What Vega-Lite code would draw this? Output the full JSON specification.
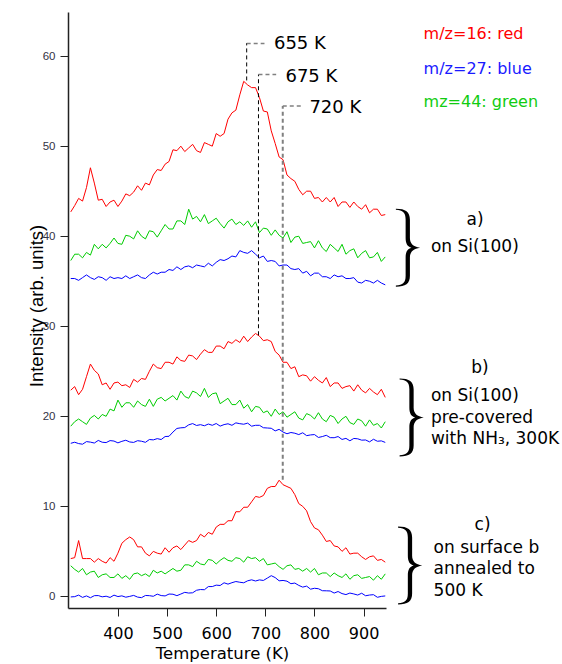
{
"$schema":"https://vega.github.io/schema/vega-lite/v6.json",
"width":318,"height":596,
"autosize":{"type":"none"},
"padding":{"left":68,"top":12,"right":176,"bottom":56},
"background":"white",
"config":{"view":{"stroke":null}},
"datasets":{
"ra":[{"x":304,"y":42.7},{"x":312,"y":43.4},{"x":320,"y":44.2},{"x":328,"y":43.9},{"x":336,"y":45.4},{"x":344,"y":47.6},{"x":352,"y":45.9},{"x":360,"y":44.0},{"x":368,"y":44.1},{"x":376,"y":43.3},{"x":384,"y":43.8},{"x":392,"y":44.0},{"x":400,"y":43.3},{"x":408,"y":43.9},{"x":416,"y":44.7},{"x":424,"y":44.5},{"x":432,"y":44.9},{"x":440,"y":45.6},{"x":448,"y":45.1},{"x":456,"y":45.9},{"x":464,"y":45.7},{"x":472,"y":46.8},{"x":480,"y":47.4},{"x":488,"y":47.3},{"x":496,"y":48.0},{"x":504,"y":48.3},{"x":512,"y":49.6},{"x":520,"y":49.5},{"x":528,"y":50.0},{"x":536,"y":49.4},{"x":544,"y":49.8},{"x":552,"y":50.2},{"x":560,"y":49.5},{"x":568,"y":49.3},{"x":576,"y":50.4},{"x":584,"y":50.2},{"x":592,"y":50.0},{"x":600,"y":51.4},{"x":608,"y":51.1},{"x":616,"y":51.4},{"x":624,"y":53.0},{"x":632,"y":53.7},{"x":640,"y":54.0},{"x":648,"y":55.7},{"x":656,"y":57.2},{"x":664,"y":56.8},{"x":672,"y":56.5},{"x":680,"y":56.5},{"x":688,"y":55.4},{"x":696,"y":53.9},{"x":704,"y":53.8},{"x":712,"y":51.7},{"x":720,"y":50.3},{"x":728,"y":48.8},{"x":736,"y":48.5},{"x":744,"y":46.8},{"x":752,"y":46.4},{"x":760,"y":46.1},{"x":768,"y":45.2},{"x":776,"y":44.6},{"x":784,"y":45.0},{"x":792,"y":45.0},{"x":800,"y":44.2},{"x":808,"y":44.3},{"x":816,"y":43.8},{"x":824,"y":44.3},{"x":832,"y":43.8},{"x":840,"y":44.3},{"x":848,"y":43.3},{"x":856,"y":43.8},{"x":864,"y":43.8},{"x":872,"y":43.2},{"x":880,"y":43.8},{"x":888,"y":43.3},{"x":896,"y":43.0},{"x":904,"y":43.5},{"x":912,"y":42.6},{"x":920,"y":43.0},{"x":928,"y":43.0},{"x":936,"y":42.3},{"x":944,"y":42.4}],
"ga":[{"x":304,"y":37.3},{"x":312,"y":38.0},{"x":320,"y":38.0},{"x":328,"y":37.6},{"x":336,"y":38.2},{"x":344,"y":37.9},{"x":352,"y":39.1},{"x":360,"y":38.6},{"x":368,"y":39.1},{"x":376,"y":38.7},{"x":384,"y":39.2},{"x":392,"y":39.8},{"x":400,"y":39.2},{"x":408,"y":39.1},{"x":416,"y":40.1},{"x":424,"y":40.0},{"x":432,"y":39.7},{"x":440,"y":40.6},{"x":448,"y":40.0},{"x":456,"y":39.7},{"x":464,"y":40.6},{"x":472,"y":40.5},{"x":480,"y":39.9},{"x":488,"y":40.6},{"x":496,"y":41.3},{"x":504,"y":40.8},{"x":512,"y":40.8},{"x":520,"y":41.7},{"x":528,"y":41.7},{"x":536,"y":41.3},{"x":544,"y":43.0},{"x":552,"y":41.9},{"x":560,"y":42.2},{"x":568,"y":41.6},{"x":576,"y":42.4},{"x":584,"y":41.4},{"x":592,"y":41.7},{"x":600,"y":42.0},{"x":608,"y":41.4},{"x":616,"y":40.9},{"x":624,"y":41.6},{"x":632,"y":41.9},{"x":640,"y":41.3},{"x":648,"y":41.6},{"x":656,"y":41.2},{"x":664,"y":41.7},{"x":672,"y":41.0},{"x":680,"y":41.6},{"x":688,"y":40.4},{"x":696,"y":40.9},{"x":704,"y":40.8},{"x":712,"y":40.1},{"x":720,"y":40.7},{"x":728,"y":40.1},{"x":736,"y":39.8},{"x":744,"y":40.5},{"x":752,"y":39.3},{"x":760,"y":39.9},{"x":768,"y":40.0},{"x":776,"y":39.2},{"x":784,"y":39.3},{"x":792,"y":39.4},{"x":800,"y":38.7},{"x":808,"y":39.5},{"x":816,"y":38.7},{"x":824,"y":38.3},{"x":832,"y":39.1},{"x":840,"y":38.7},{"x":848,"y":38.3},{"x":856,"y":39.1},{"x":864,"y":38.0},{"x":872,"y":38.4},{"x":880,"y":38.6},{"x":888,"y":37.6},{"x":896,"y":38.1},{"x":904,"y":38.4},{"x":912,"y":37.6},{"x":920,"y":37.7},{"x":928,"y":38.2},{"x":936,"y":37.2},{"x":944,"y":37.7}],
"ba":[{"x":304,"y":35.3},{"x":312,"y":35.3},{"x":320,"y":35.1},{"x":328,"y":35.4},{"x":336,"y":35.7},{"x":344,"y":35.4},{"x":352,"y":35.2},{"x":360,"y":35.5},{"x":368,"y":35.4},{"x":376,"y":35.1},{"x":384,"y":35.5},{"x":392,"y":35.3},{"x":400,"y":35.4},{"x":408,"y":35.3},{"x":416,"y":35.6},{"x":424,"y":35.3},{"x":432,"y":35.5},{"x":440,"y":35.7},{"x":448,"y":35.4},{"x":456,"y":35.3},{"x":464,"y":35.7},{"x":472,"y":36.0},{"x":480,"y":35.8},{"x":488,"y":36.0},{"x":496,"y":36.0},{"x":504,"y":36.3},{"x":512,"y":36.2},{"x":520,"y":36.6},{"x":528,"y":36.3},{"x":536,"y":36.6},{"x":544,"y":36.7},{"x":552,"y":36.5},{"x":560,"y":36.8},{"x":568,"y":36.7},{"x":576,"y":36.6},{"x":584,"y":37.0},{"x":592,"y":36.7},{"x":600,"y":37.1},{"x":608,"y":37.4},{"x":616,"y":37.3},{"x":624,"y":37.5},{"x":632,"y":37.8},{"x":640,"y":37.7},{"x":648,"y":38.4},{"x":656,"y":38.2},{"x":664,"y":38.1},{"x":672,"y":38.4},{"x":680,"y":38.0},{"x":688,"y":37.6},{"x":696,"y":37.8},{"x":704,"y":37.2},{"x":712,"y":37.3},{"x":720,"y":37.2},{"x":728,"y":36.7},{"x":736,"y":36.8},{"x":744,"y":36.8},{"x":752,"y":36.4},{"x":760,"y":36.3},{"x":768,"y":36.4},{"x":776,"y":35.9},{"x":784,"y":36.1},{"x":792,"y":35.6},{"x":800,"y":35.9},{"x":808,"y":35.9},{"x":816,"y":35.5},{"x":824,"y":35.5},{"x":832,"y":35.3},{"x":840,"y":35.7},{"x":848,"y":35.5},{"x":856,"y":35.6},{"x":864,"y":35.3},{"x":872,"y":35.3},{"x":880,"y":35.4},{"x":888,"y":34.9},{"x":896,"y":34.8},{"x":904,"y":35.1},{"x":912,"y":35.0},{"x":920,"y":34.8},{"x":928,"y":35.1},{"x":936,"y":34.8},{"x":944,"y":34.6}],
"rb":[{"x":304,"y":22.9},{"x":312,"y":23.3},{"x":320,"y":22.4},{"x":328,"y":23.0},{"x":336,"y":24.4},{"x":344,"y":25.8},{"x":352,"y":25.1},{"x":360,"y":24.7},{"x":368,"y":23.5},{"x":376,"y":23.7},{"x":384,"y":23.0},{"x":392,"y":23.7},{"x":400,"y":23.8},{"x":408,"y":23.4},{"x":416,"y":23.5},{"x":424,"y":23.2},{"x":432,"y":24.1},{"x":440,"y":23.8},{"x":448,"y":24.2},{"x":456,"y":24.1},{"x":464,"y":25.0},{"x":472,"y":25.8},{"x":480,"y":25.4},{"x":488,"y":25.3},{"x":496,"y":26.0},{"x":504,"y":26.0},{"x":512,"y":25.8},{"x":520,"y":26.6},{"x":528,"y":26.2},{"x":536,"y":26.1},{"x":544,"y":26.8},{"x":552,"y":26.7},{"x":560,"y":26.3},{"x":568,"y":26.9},{"x":576,"y":27.4},{"x":584,"y":27.1},{"x":592,"y":27.1},{"x":600,"y":27.8},{"x":608,"y":27.8},{"x":616,"y":27.5},{"x":624,"y":28.3},{"x":632,"y":28.1},{"x":640,"y":28.5},{"x":648,"y":28.2},{"x":656,"y":28.9},{"x":664,"y":28.3},{"x":672,"y":28.8},{"x":680,"y":29.2},{"x":688,"y":28.9},{"x":696,"y":28.4},{"x":704,"y":28.5},{"x":712,"y":28.3},{"x":720,"y":27.2},{"x":728,"y":26.8},{"x":736,"y":26.0},{"x":744,"y":26.0},{"x":752,"y":25.3},{"x":760,"y":25.5},{"x":768,"y":24.4},{"x":776,"y":24.6},{"x":784,"y":24.5},{"x":792,"y":23.9},{"x":800,"y":24.4},{"x":808,"y":24.0},{"x":816,"y":23.7},{"x":824,"y":24.3},{"x":832,"y":23.3},{"x":840,"y":23.7},{"x":848,"y":23.7},{"x":856,"y":23.1},{"x":864,"y":23.3},{"x":872,"y":23.4},{"x":880,"y":22.8},{"x":888,"y":23.5},{"x":896,"y":22.9},{"x":904,"y":22.6},{"x":912,"y":23.1},{"x":920,"y":22.7},{"x":928,"y":22.4},{"x":936,"y":23.0},{"x":944,"y":22.1}],
"gb":[{"x":304,"y":18.9},{"x":312,"y":19.4},{"x":320,"y":19.7},{"x":328,"y":19.4},{"x":336,"y":19.1},{"x":344,"y":19.8},{"x":352,"y":20.1},{"x":360,"y":19.7},{"x":368,"y":20.2},{"x":376,"y":20.0},{"x":384,"y":20.8},{"x":392,"y":20.6},{"x":400,"y":21.8},{"x":408,"y":21.0},{"x":416,"y":21.5},{"x":424,"y":21.5},{"x":432,"y":21.0},{"x":440,"y":21.7},{"x":448,"y":21.3},{"x":456,"y":21.1},{"x":464,"y":21.9},{"x":472,"y":21.1},{"x":480,"y":21.9},{"x":488,"y":22.1},{"x":496,"y":21.7},{"x":504,"y":22.0},{"x":512,"y":22.3},{"x":520,"y":21.8},{"x":528,"y":22.8},{"x":536,"y":22.2},{"x":544,"y":22.0},{"x":552,"y":22.8},{"x":560,"y":22.6},{"x":568,"y":22.2},{"x":576,"y":23.1},{"x":584,"y":22.1},{"x":592,"y":22.5},{"x":600,"y":22.6},{"x":608,"y":21.4},{"x":616,"y":21.7},{"x":624,"y":22.0},{"x":632,"y":21.3},{"x":640,"y":21.3},{"x":648,"y":21.8},{"x":656,"y":20.9},{"x":664,"y":21.3},{"x":672,"y":20.5},{"x":680,"y":21.1},{"x":688,"y":21.0},{"x":696,"y":20.4},{"x":704,"y":20.6},{"x":712,"y":20.0},{"x":720,"y":20.8},{"x":728,"y":20.2},{"x":736,"y":20.5},{"x":744,"y":19.9},{"x":752,"y":20.2},{"x":760,"y":20.5},{"x":768,"y":19.8},{"x":776,"y":19.6},{"x":784,"y":20.3},{"x":792,"y":20.1},{"x":800,"y":19.7},{"x":808,"y":20.4},{"x":816,"y":19.7},{"x":824,"y":19.4},{"x":832,"y":20.1},{"x":840,"y":19.9},{"x":848,"y":19.2},{"x":856,"y":19.7},{"x":864,"y":20.0},{"x":872,"y":19.3},{"x":880,"y":19.1},{"x":888,"y":19.7},{"x":896,"y":19.5},{"x":904,"y":18.9},{"x":912,"y":19.6},{"x":920,"y":19.0},{"x":928,"y":19.2},{"x":936,"y":18.7},{"x":944,"y":19.4}],
"bb":[{"x":304,"y":17.0},{"x":312,"y":17.12},{"x":320,"y":16.97},{"x":328,"y":16.9},{"x":336,"y":17.19},{"x":344,"y":17.13},{"x":352,"y":17.03},{"x":360,"y":17.32},{"x":368,"y":17.12},{"x":376,"y":17.08},{"x":384,"y":17.3},{"x":392,"y":17.25},{"x":400,"y":17.05},{"x":408,"y":17.22},{"x":416,"y":17.34},{"x":424,"y":17.15},{"x":432,"y":17.1},{"x":440,"y":17.29},{"x":448,"y":17.23},{"x":456,"y":17.11},{"x":464,"y":17.42},{"x":472,"y":17.38},{"x":480,"y":17.52},{"x":488,"y":17.42},{"x":496,"y":17.75},{"x":504,"y":17.78},{"x":512,"y":18.25},{"x":520,"y":18.65},{"x":528,"y":18.72},{"x":536,"y":18.75},{"x":544,"y":19.05},{"x":552,"y":19.19},{"x":560,"y":18.98},{"x":568,"y":19.07},{"x":576,"y":18.95},{"x":584,"y":19.14},{"x":592,"y":19.0},{"x":600,"y":19.2},{"x":608,"y":18.91},{"x":616,"y":19.08},{"x":624,"y":19.17},{"x":632,"y":19.0},{"x":640,"y":19.27},{"x":648,"y":19.18},{"x":656,"y":19.12},{"x":664,"y":19.24},{"x":672,"y":18.9},{"x":680,"y":19.0},{"x":688,"y":19.0},{"x":696,"y":18.73},{"x":704,"y":18.7},{"x":712,"y":18.67},{"x":720,"y":18.38},{"x":728,"y":18.55},{"x":736,"y":18.25},{"x":744,"y":18.06},{"x":752,"y":18.2},{"x":760,"y":18.12},{"x":768,"y":17.97},{"x":776,"y":18.17},{"x":784,"y":17.85},{"x":792,"y":17.93},{"x":800,"y":17.97},{"x":808,"y":17.65},{"x":816,"y":17.75},{"x":824,"y":17.89},{"x":832,"y":17.63},{"x":840,"y":17.62},{"x":848,"y":17.75},{"x":856,"y":17.43},{"x":864,"y":17.55},{"x":872,"y":17.28},{"x":880,"y":17.54},{"x":888,"y":17.5},{"x":896,"y":17.35},{"x":904,"y":17.37},{"x":912,"y":17.16},{"x":920,"y":17.45},{"x":928,"y":17.23},{"x":936,"y":17.27},{"x":944,"y":17.1}],
"rc":[{"x":304,"y":4.2},{"x":312,"y":4.3},{"x":320,"y":6.2},{"x":328,"y":4.2},{"x":336,"y":4.2},{"x":344,"y":4.2},{"x":352,"y":3.8},{"x":360,"y":4.2},{"x":368,"y":3.9},{"x":376,"y":3.7},{"x":384,"y":4.3},{"x":392,"y":3.9},{"x":400,"y":4.8},{"x":408,"y":5.9},{"x":416,"y":6.3},{"x":424,"y":6.6},{"x":432,"y":6.3},{"x":440,"y":5.5},{"x":448,"y":5.5},{"x":456,"y":4.8},{"x":464,"y":4.5},{"x":472,"y":5.0},{"x":480,"y":4.8},{"x":488,"y":4.7},{"x":496,"y":5.4},{"x":504,"y":4.9},{"x":512,"y":5.4},{"x":520,"y":5.6},{"x":528,"y":5.2},{"x":536,"y":5.7},{"x":544,"y":6.2},{"x":552,"y":6.0},{"x":560,"y":6.2},{"x":568,"y":6.9},{"x":576,"y":6.6},{"x":584,"y":7.1},{"x":592,"y":6.9},{"x":600,"y":7.7},{"x":608,"y":8.0},{"x":616,"y":8.0},{"x":624,"y":8.4},{"x":632,"y":8.4},{"x":640,"y":9.4},{"x":648,"y":9.4},{"x":656,"y":9.9},{"x":664,"y":9.9},{"x":672,"y":10.5},{"x":680,"y":11.1},{"x":688,"y":11.0},{"x":696,"y":11.2},{"x":704,"y":12.0},{"x":712,"y":12.2},{"x":720,"y":12.2},{"x":728,"y":12.9},{"x":736,"y":12.4},{"x":744,"y":12.2},{"x":752,"y":12.0},{"x":760,"y":11.3},{"x":768,"y":10.3},{"x":776,"y":10.0},{"x":784,"y":9.5},{"x":792,"y":8.3},{"x":800,"y":7.6},{"x":808,"y":7.4},{"x":816,"y":6.8},{"x":824,"y":6.1},{"x":832,"y":6.2},{"x":840,"y":5.6},{"x":848,"y":5.5},{"x":856,"y":5.0},{"x":864,"y":5.4},{"x":872,"y":4.7},{"x":880,"y":4.8},{"x":888,"y":4.8},{"x":896,"y":4.4},{"x":904,"y":4.1},{"x":912,"y":4.4},{"x":920,"y":4.5},{"x":928,"y":4.0},{"x":936,"y":4.1},{"x":944,"y":3.8}],
"gc":[{"x":304,"y":3.4},{"x":312,"y":3.0},{"x":320,"y":2.7},{"x":328,"y":3.1},{"x":336,"y":2.4},{"x":344,"y":2.7},{"x":352,"y":2.8},{"x":360,"y":2.1},{"x":368,"y":2.4},{"x":376,"y":2.5},{"x":384,"y":2.1},{"x":392,"y":2.1},{"x":400,"y":2.5},{"x":408,"y":2.0},{"x":416,"y":2.3},{"x":424,"y":1.9},{"x":432,"y":2.5},{"x":440,"y":2.6},{"x":448,"y":2.3},{"x":456,"y":2.5},{"x":464,"y":2.2},{"x":472,"y":2.9},{"x":480,"y":2.6},{"x":488,"y":2.8},{"x":496,"y":2.5},{"x":504,"y":2.8},{"x":512,"y":3.1},{"x":520,"y":2.8},{"x":528,"y":2.9},{"x":536,"y":3.5},{"x":544,"y":3.5},{"x":552,"y":3.3},{"x":560,"y":3.9},{"x":568,"y":3.6},{"x":576,"y":3.5},{"x":584,"y":4.1},{"x":592,"y":4.0},{"x":600,"y":3.6},{"x":608,"y":4.0},{"x":616,"y":4.3},{"x":624,"y":4.0},{"x":632,"y":3.9},{"x":640,"y":4.3},{"x":648,"y":4.2},{"x":656,"y":3.8},{"x":664,"y":4.4},{"x":672,"y":4.2},{"x":680,"y":4.3},{"x":688,"y":3.9},{"x":696,"y":4.2},{"x":704,"y":3.5},{"x":712,"y":3.6},{"x":720,"y":3.7},{"x":728,"y":3.3},{"x":736,"y":3.0},{"x":744,"y":3.4},{"x":752,"y":3.5},{"x":760,"y":3.0},{"x":768,"y":3.1},{"x":776,"y":2.8},{"x":784,"y":3.1},{"x":792,"y":2.7},{"x":800,"y":3.1},{"x":808,"y":2.4},{"x":816,"y":2.6},{"x":824,"y":2.6},{"x":832,"y":2.2},{"x":840,"y":2.6},{"x":848,"y":2.3},{"x":856,"y":2.1},{"x":864,"y":2.5},{"x":872,"y":1.9},{"x":880,"y":2.3},{"x":888,"y":2.4},{"x":896,"y":2.0},{"x":904,"y":2.1},{"x":912,"y":2.2},{"x":920,"y":1.8},{"x":928,"y":2.3},{"x":936,"y":1.9},{"x":944,"y":2.5}],
"bc":[{"x":304,"y":-0.06},{"x":312,"y":-0.03},{"x":320,"y":0.14},{"x":328,"y":-0.11},{"x":336,"y":0.05},{"x":344,"y":-0.15},{"x":352,"y":0.08},{"x":360,"y":0.09},{"x":368,"y":-0.05},{"x":376,"y":0.02},{"x":384,"y":-0.12},{"x":392,"y":0.14},{"x":400,"y":-0.02},{"x":408,"y":0.06},{"x":416,"y":-0.09},{"x":424,"y":0.0},{"x":432,"y":0.11},{"x":440,"y":-0.08},{"x":448,"y":-0.14},{"x":456,"y":0.1},{"x":464,"y":0.08},{"x":472,"y":0.01},{"x":480,"y":0.25},{"x":488,"y":0.09},{"x":496,"y":0.05},{"x":504,"y":0.26},{"x":512,"y":0.24},{"x":520,"y":0.08},{"x":528,"y":0.26},{"x":536,"y":0.45},{"x":544,"y":0.37},{"x":552,"y":0.4},{"x":560,"y":0.68},{"x":568,"y":0.76},{"x":576,"y":0.74},{"x":584,"y":1.09},{"x":592,"y":1.09},{"x":600,"y":1.25},{"x":608,"y":1.21},{"x":616,"y":1.51},{"x":624,"y":1.36},{"x":632,"y":1.52},{"x":640,"y":1.65},{"x":648,"y":1.57},{"x":656,"y":1.51},{"x":664,"y":1.73},{"x":672,"y":1.84},{"x":680,"y":1.71},{"x":688,"y":1.83},{"x":696,"y":1.77},{"x":704,"y":2.03},{"x":712,"y":2.3},{"x":720,"y":2.09},{"x":728,"y":1.73},{"x":736,"y":1.77},{"x":744,"y":1.69},{"x":752,"y":1.41},{"x":760,"y":1.48},{"x":768,"y":1.22},{"x":776,"y":1.03},{"x":784,"y":1.14},{"x":792,"y":0.8},{"x":800,"y":0.9},{"x":808,"y":0.85},{"x":816,"y":0.63},{"x":824,"y":0.62},{"x":832,"y":0.6},{"x":840,"y":0.37},{"x":848,"y":0.54},{"x":856,"y":0.31},{"x":864,"y":0.2},{"x":872,"y":0.37},{"x":880,"y":0.27},{"x":888,"y":0.15},{"x":896,"y":0.35},{"x":904,"y":0.07},{"x":912,"y":0.15},{"x":920,"y":0.19},{"x":928,"y":-0.1},{"x":936,"y":0.0},{"x":944,"y":0.05}],
"vblack":[{"x":662,"y":57.3,"y2":61.45},{"x":686,"y":29.0,"y2":57.97}],
"vgray":[{"x":735.4,"y":12.95,"y2":54.45}],
"leaders":[{"x":662,"x2":698.2,"y":61.4},{"x":686,"x2":722,"y":57.97},{"x":735.4,"x2":772.8,"y":54.45}],
"peaks":[{"x":717.5,"y":60.74,"t":"655 K"},{"x":740.9,"y":57.15,"t":"675 K"},{"x":789.6,"y":53.64,"t":"720 K"}],
"key":[{"x":1022,"y":61.85,"t":"m/z=16: red","m":"16"},{"x":1022,"y":58.0,"t":"m/z=27: blue","m":"27"},{"x":1022,"y":54.37,"t":"mz=44: green","m":"44"}],
"heads":[{"x":1126.6,"y":41.25,"t":"a)"},{"x":1136.6,"y":24.86,"t":"b)"},{"x":1142,"y":7.4,"t":"c)"}],
"notes":[{"x":1037,"y":38.28,"t":"on Si(100)"},{"x":1037,"y":21.72,"t":"on Si(100)"},{"x":1037,"y":19.31,"t":"pre-covered"},{"x":1037,"y":16.94,"t":"with NH₃, 300K"},{"x":1042.3,"y":4.82,"t":"on surface b"},{"x":1042.3,"y":2.52,"t":"annealed to"},{"x":1042.3,"y":0.08,"t":"500 K"}],
"braces":[{"x":989.4,"y":38.73},{"x":997,"y":19.88},{"x":993.9,"y":3.43}]
},
"encoding":{
"x":{"field":"x","type":"quantitative","scale":{"domain":[298.4,945.5],"nice":false,"zero":false},
"axis":{"title":"Temperature (K)","values":[400,500,600,700,800,900],"grid":false,"domainColor":"#222","domainWidth":1.5,"tickColor":"#222","tickWidth":1,"tickSize":8,"labelFont":"DejaVu Sans","labelFontSize":16,"labelColor":"#000","labelPadding":9,"titleFont":"DejaVu Sans","titleFontSize":16.5,"titleFontWeight":"normal","titleColor":"#000","titleX":154,"titleY":50,"titleBaseline":"alphabetic","titleAlign":"center"}},
"y":{"field":"y","type":"quantitative","scale":{"domain":[-1.29,64.9],"nice":false,"zero":false},
"axis":{"title":"Intensity (arb. units)","values":[0,10,20,30,40,50,60],"grid":false,"domainColor":"#222","domainWidth":1.5,"tickColor":"#222","tickWidth":1,"tickSize":8,"labelFont":"Liberation Sans","labelFontSize":11.5,"labelColor":"#333344","labelPadding":5,"titleFont":"Liberation Sans","titleFontSize":18.5,"titleFontWeight":"normal","titleColor":"#000","titleAngle":270,"titleX":-26,"titleY":293.5,"titleBaseline":"alphabetic","titleAlign":"center"}}
},
"layer":[
{"data":{"name":"ra"},"mark":{"type":"line","color":"#ff0000","strokeWidth":1}},
{"data":{"name":"ga"},"mark":{"type":"line","color":"#00cc00","strokeWidth":1}},
{"data":{"name":"ba"},"mark":{"type":"line","color":"#0000ff","strokeWidth":1}},
{"data":{"name":"rb"},"mark":{"type":"line","color":"#ff0000","strokeWidth":1}},
{"data":{"name":"gb"},"mark":{"type":"line","color":"#00cc00","strokeWidth":1}},
{"data":{"name":"bb"},"mark":{"type":"line","color":"#0000ff","strokeWidth":1}},
{"data":{"name":"rc"},"mark":{"type":"line","color":"#ff0000","strokeWidth":1}},
{"data":{"name":"gc"},"mark":{"type":"line","color":"#00cc00","strokeWidth":1}},
{"data":{"name":"bc"},"mark":{"type":"line","color":"#0000ff","strokeWidth":1}},
{"data":{"name":"vblack"},"mark":{"type":"rule","color":"#000","strokeWidth":1,"strokeDash":[4,3]},"encoding":{"y2":{"field":"y2"}}},
{"data":{"name":"vgray"},"mark":{"type":"rule","color":"#808080","strokeWidth":2,"strokeDash":[4,3]},"encoding":{"y2":{"field":"y2"}}},
{"data":{"name":"leaders"},"mark":{"type":"rule","color":"#808080","strokeWidth":1.5,"strokeDash":[4,3]},"encoding":{"x2":{"field":"x2"}}},
{"data":{"name":"peaks"},"mark":{"type":"text","font":"DejaVu Sans","fontSize":18,"align":"left","baseline":"alphabetic","color":"#000"},"encoding":{"text":{"field":"t"}}},
{"data":{"name":"key"},"mark":{"type":"text","font":"DejaVu Sans","fontSize":16,"align":"left","baseline":"alphabetic"},"encoding":{"text":{"field":"t"},"color":{"field":"m","type":"nominal","scale":{"domain":["16","27","44"],"range":["#ff0000","#1a1aff","#11cc11"]},"legend":null}}},
{"data":{"name":"heads"},"mark":{"type":"text","font":"DejaVu Sans","fontSize":17,"align":"center","baseline":"alphabetic","color":"#000"},"encoding":{"text":{"field":"t"}}},
{"data":{"name":"notes"},"mark":{"type":"text","font":"DejaVu Sans","fontSize":17,"align":"left","baseline":"alphabetic","color":"#000"},"encoding":{"text":{"field":"t"}}},
{"data":{"name":"braces"},"mark":{"type":"point","shape":"M -0.30 -1.00 C -0.05 -1.00 0.06 -0.92 0.06 -0.72 L 0.06 -0.25 C 0.06 -0.10 0.15 -0.03 0.32 0.00 C 0.15 0.03 0.06 0.10 0.06 0.25 L 0.06 0.72 C 0.06 0.92 -0.05 1.00 -0.30 1.00 L -0.30 0.97 C -0.12 0.96 -0.05 0.90 -0.05 0.72 L -0.05 0.25 C -0.05 0.10 0.00 0.03 0.10 0.00 C 0.00 -0.03 -0.05 -0.10 -0.05 -0.25 L -0.05 -0.72 C -0.05 -0.90 -0.12 -0.96 -0.30 -0.97 Z","size":6084,"filled":true,"color":"#000","opacity":1,"strokeWidth":0}}
]
}
